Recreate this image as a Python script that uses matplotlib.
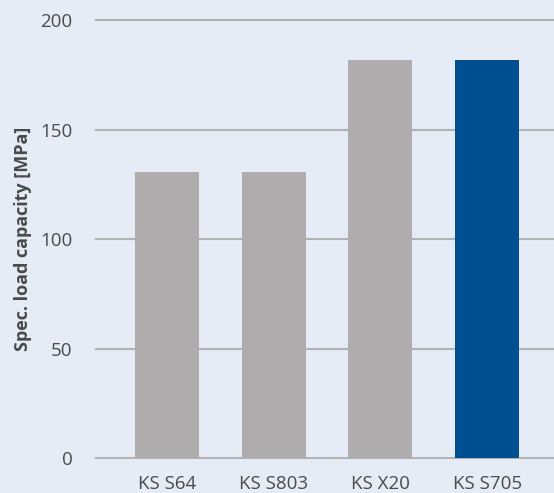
import matplotlib.pyplot as plt
import numpy as np

plt.rcParams['font.family'] = ['Open Sans', 'DejaVu Sans']

# data
materials = ['KS S64', 'KS S803', 'KS X20', 'KS S705']
load_capacity = [130.5, 130.5, 182, 182]
bar_colors = ['#aeacad', '#aeacad', '#aeacad', '#004f91']
y_ticks = [0, 50, 100, 150, 200]

bg = '#e5ecf5'
fig = plt.figure(figsize=(5.54, 4.93), dpi=100, facecolor=bg)
ax = fig.add_axes([0.1733, 0.071, 0.8267, 0.888])
ax.set_facecolor(bg)

x = np.arange(len(materials))
for yt in y_ticks:
    ax.axhline(yt, color='#b2b2b4', linewidth=1.5, zorder=1, clip_on=False)
ax.bar(x, load_capacity, width=0.6, color=bar_colors, zorder=2)

ax.set_xlim(-0.665, 3.627)
ax.set_ylim(0, 200)
ax.set_yticks(y_ticks)
ax.set_xticks(x)
ax.set_xticklabels(materials)
ax.tick_params(axis='both', length=0, labelsize=13.5, colors='#4a4a4a')
ax.tick_params(axis='y', pad=17)
ax.tick_params(axis='x', pad=12)
for s in ax.spines.values():
    s.set_visible(False)

ax.set_ylabel('Spec. load capacity [MPa]', fontsize=13, fontweight='bold',
              color='#4a4a4a', labelpad=6)

plt.savefig('out.png', dpi=100, facecolor=bg)
